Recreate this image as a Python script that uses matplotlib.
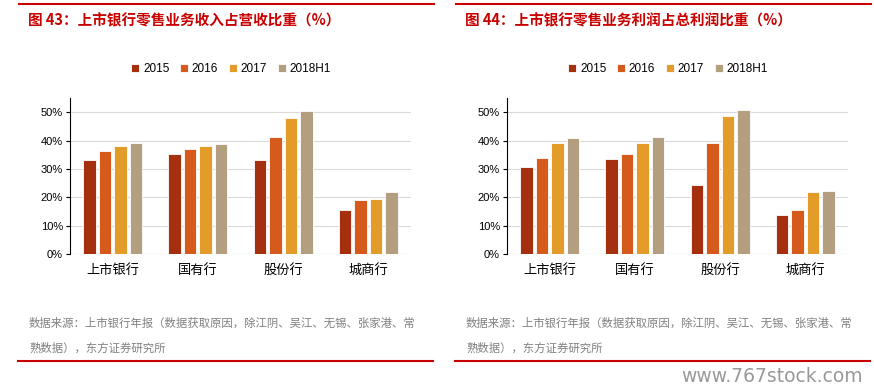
import matplotlib
matplotlib.use('Agg')
import matplotlib.pyplot as plt
import numpy as np
from matplotlib.lines import Line2D

plt.rcParams['font.family'] = ['Noto Sans CJK SC', 'DejaVu Sans']

categories = ['上市银行', '国有行', '股份行', '城商行']
series = ['2015', '2016', '2017', '2018H1']
# 图43 零售业务收入占营收比重
rev_share = [
    [33.2, 35.2, 33.0, 15.6],
    [36.4, 37.1, 41.2, 18.9],
    [38.1, 38.0, 48.0, 19.4],
    [39.2, 38.8, 50.4, 21.9],
]
# 图44 零售业务利润占总利润比重
profit_share = [
    [30.5, 33.6, 24.3, 13.7],
    [33.7, 35.2, 39.0, 15.6],
    [39.1, 39.2, 48.6, 21.7],
    [41.0, 41.3, 50.7, 22.3],
]
titles = ['图 43：上市银行零售业务收入占营收比重（%）',
          '图 44：上市银行零售业务利润占总利润比重（%）']
source_lines = ['数据来源：上市银行年报（数据获取原因，除江阴、吴江、无锡、张家港、常',
                '熟数据），东方证券研究所']

colors = ['#A5300F', '#D65A1C', '#E39B2A', '#B39F7F']
RED = '#C80000'
W, H = 874, 392

fig = plt.figure(figsize=(W / 100, H / 100), dpi=100)

def fx(px): return px / W
def fy(py): return 1 - py / H

def panel(x0, title, data):
    # 顶部红线 + 标题
    fig.add_artist(Line2D([fx(x0 + 19), fx(x0 + 434)], [fy(4), fy(4)], color=RED, lw=1.5))
    fig.text(fx(x0 + 28), fy(20), title, color=RED, fontsize=10.5, fontweight='bold',
             va='center', ha='left')
    ax = fig.add_axes([fx(x0 + 70), fy(254), fx(341), (254 - 98) / H])
    x = np.arange(len(categories))
    w, slot = 0.145, 0.182
    for i, (s, vals) in enumerate(zip(series, data)):
        ax.bar(x + (i - 1.5) * slot, np.array(vals) / 100, width=w, color=colors[i],
               edgecolor='white', linewidth=0.6, label=s, zorder=3)
    ax.set_xlim(-0.5, 3.5)
    ax.set_ylim(0, 0.55)
    ax.set_yticks(np.arange(0, 0.51, 0.1))
    ax.set_yticklabels([f'{int(v)}%' for v in range(0, 51, 10)],
                       fontsize=8, family='Liberation Sans')
    ax.yaxis.grid(True, color='#D9D9D9', lw=0.8, zorder=0)
    ax.set_xticks(x)
    ax.set_xticklabels(categories, fontsize=9.5)
    ax.tick_params(axis='x', length=0, pad=7)
    ax.tick_params(axis='y', length=3, width=0.8, direction='out', pad=2)
    for sp in ['top', 'right', 'bottom']:
        ax.spines[sp].set_visible(False)
    ax.spines['left'].set_linewidth(0.8)
    ax.axhline(0, color='#D9D9D9', lw=0.8, zorder=1)
    handles, labels = ax.get_legend_handles_labels()
    fig.legend(handles, labels, loc='center', bbox_to_anchor=(fx(x0 + 231), fy(69)),
               ncol=4, frameon=False, handlelength=0.7, handleheight=0.7,
               handletextpad=0.3, columnspacing=0.9,
               prop={'family': 'Liberation Sans', 'size': 8.5})
    # 数据来源 + 底部红线
    for k, line in enumerate(source_lines):
        fig.text(fx(x0 + 29), fy(323 + 25 * k), line, color='#808080', fontsize=8.2,
                 va='center', ha='left')
    fig.add_artist(Line2D([fx(x0 + 18), fx(x0 + 433)], [fy(361), fy(361)], color=RED, lw=1.5))

panel(0, titles[0], rev_share)
panel(437, titles[1], profit_share)

fig.text(fx(863), fy(376), 'www.767stock.com', color='#999999', fontsize=13.5,
         ha='right', va='center', family='DejaVu Sans Condensed')

fig.savefig('out.png', dpi=100)
